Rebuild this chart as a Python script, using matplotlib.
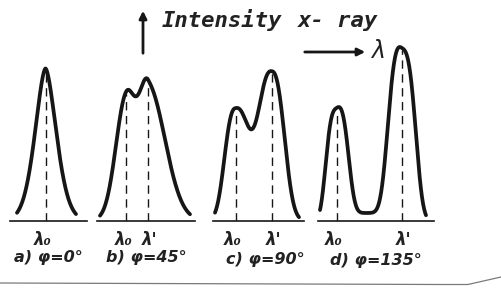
import numpy as np
import matplotlib
matplotlib.use("Agg")
import matplotlib.pyplot as plt
from matplotlib.transforms import ScaledTranslation

# scattering angles and the peak data (pixel units)
labels = ["a) φ=0°", "b) φ=45°", "c) φ=90°", "d) φ=135°"]
shift = [0.0, 22.0, 36.0, 65.5]          # lambda' - lambda0
I0 = [152, 121, 112, 109]                # unshifted line intensity
I1 = [0, 134, 149, 169]                  # shifted (Compton) line intensity
w0 = [(15.0, 15.5), (14.5, 13.0), (14.0, 17.8), (12.5, 14.0)]   # left/right width of lambda0 line
w1 = [(1.0, 1.0), (13.0, 24.0), (17.8, 16.0), (16.3, 16.0)]    # left/right width of lambda' line
expo = [1.7, 2.0, 2.5, 3.0]
floor = [0, 0, 0, 8]
span = [(-28.5, 30.5), (-26, 64), (-20.7, 63.3), (-16.5, 89.5)]

W, H = 501, 296
ink = "#161616"

# panel boxes in pixels: left, right, baseline y, lambda0 x
boxes = [(10, 87, 220.5, 45.5), (97, 195, 220.5, 126), (213, 304, 220.5, 235.7), (318, 434, 221, 336.5)]
top = 40


def peak(x, c, h, wl, wr, p):
    w = np.where(x < c, wl, wr)
    return h * np.exp(-(np.abs(x - c) / w) ** p)


def spectrum(x, i):
    y = peak(x, 0.0, I0[i], w0[i][0], w0[i][1], expo[i])
    if I1[i] > 0:
        y = y + peak(x, shift[i], I1[i], w1[i][0], w1[i][1], expo[i])
        y = y + floor[i] / ((1 + np.exp(-x / 3.0)) * (1 + np.exp((x - shift[i]) / 3.0)))
    return y


fig = plt.figure(figsize=(W / 100, H / 100), dpi=100)
fig.patch.set_facecolor("white")

bg = fig.add_axes([0, 0, 1, 1])
bg.set_xlim(0, W)
bg.set_ylim(H, 0)
bg.axis("off")

hand = dict(fontfamily="DejaVu Sans", fontweight="bold", fontstyle="oblique", color="#222222")

for i, (l, r, base, lam0) in enumerate(boxes):
    ax = fig.add_axes([l / W, 1 - base / H, (r - l) / W, (base - top) / H])
    ax.set_xlim(l - lam0, r - lam0)
    ax.set_ylim(0, base - top)
    ax.axis("off")
    ax.axhline(0, color=ink, lw=1.2, clip_on=False)

    x = np.linspace(span[i][0], span[i][1], 400)
    ax.plot(x, spectrum(x, i), color=ink, lw=2.7, solid_capstyle="round", clip_on=False)

    lines = [0.0] if I1[i] == 0 else [0.0, shift[i]]
    for xl in lines:
        yl = spectrum(np.array([xl]), i)[0]
        ax.plot([xl, xl], [0, yl - 2], color=ink, lw=1.0, ls=(0, (6, 4)))

    # wavelength labels below the baseline
    ax.annotate("λ₀", xy=(lines[0], 0), xytext=(-2, -14), textcoords="offset points",
                ha="center", va="center", fontsize=12, **hand)
    if I1[i] > 0:
        ax.annotate("λ'", xy=(shift[i], 0), xytext=(1, -14), textcoords="offset points",
                    ha="center", va="center", fontsize=12, **hand)
    dy = 37 if i < 2 else 39
    t = ax.text(0.5 + (0.07 if i == 2 else 0), 0, labels[i], ha="center", va="center",
                fontsize=11.5, **hand)
    t.set_transform(ax.transAxes + ScaledTranslation(0, -dy / 100, fig.dpi_scale_trans))

# axis arrows and captions
bg.annotate("", xy=(143, 8), xytext=(143, 56),
            arrowprops=dict(arrowstyle="-|>", lw=2.0, color=ink, mutation_scale=11))
bg.text(162, 27, "Intensity", fontfamily="DejaVu Sans Mono", fontstyle="oblique",
        fontweight="bold", fontsize=16, color="#222222", va="baseline", ha="left")
bg.text(298, 27, "x- ray", fontfamily="DejaVu Sans Mono", fontstyle="oblique",
        fontweight="bold", fontsize=16, color="#222222", va="baseline", ha="left")
bg.annotate("", xy=(368, 52), xytext=(302, 52),
            arrowprops=dict(arrowstyle="-|>", lw=2.0, color=ink, mutation_scale=11))
bg.text(378, 51, "λ", fontfamily="DejaVu Sans", fontstyle="oblique", fontsize=17,
        color="#222222", va="center", ha="center")

# edge of the page
bg.plot([0, 440, 468, 501], [283, 284.5, 284.5, 277], color="#7a7a7a", lw=0.9)

fig.savefig("out.png", dpi=100, facecolor="white")
